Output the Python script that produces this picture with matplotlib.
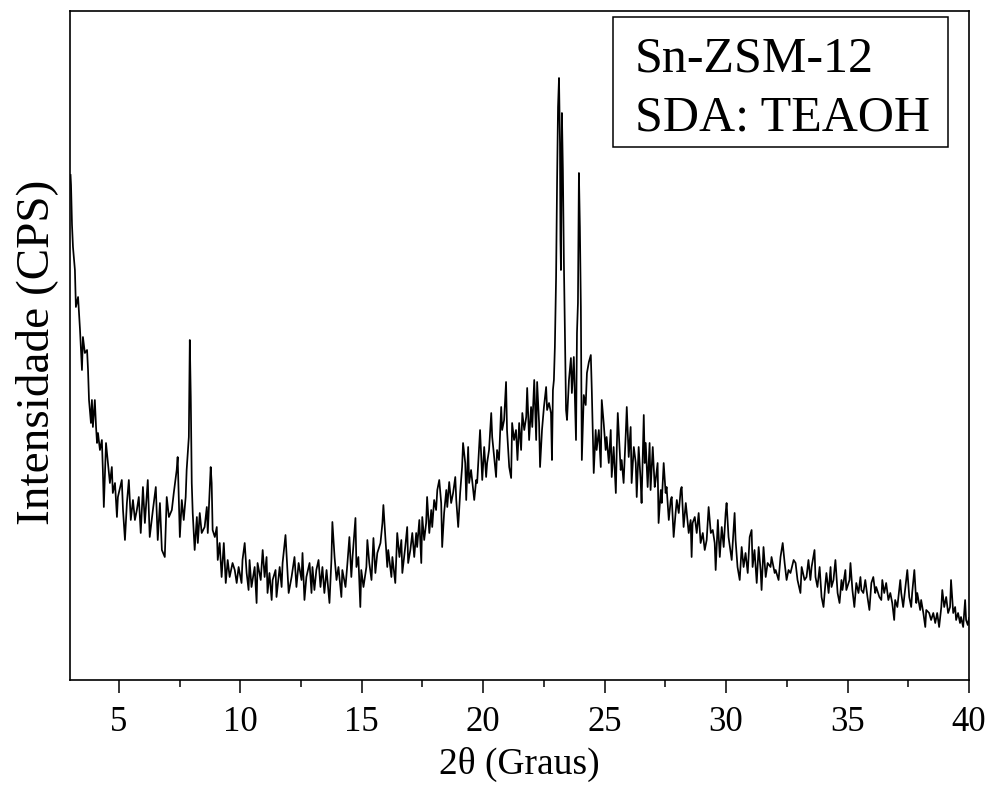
import numpy as np
import matplotlib
matplotlib.use('Agg')
import matplotlib.pyplot as plt
from matplotlib.patches import Rectangle
from matplotlib.ticker import MultipleLocator

### Difractograma Sn-ZSM-12 (intensidade em unidades arbitrarias)
# regiao de baixo angulo (3 - 10.4)
theta_a = [3.01, 3.03, 3.07, 3.11, 3.19, 3.23, 3.32, 3.40, 3.48, 3.52,
           3.60, 3.69, 3.73, 3.77, 3.85, 3.89, 3.93, 4.01, 4.06, 4.10,
           4.14, 4.22, 4.30, 4.34, 4.38, 4.47, 4.55, 4.63, 4.71, 4.75,
           4.84, 4.92, 4.96, 5.12, 5.17, 5.25, 5.33, 5.41, 5.49, 5.58,
           5.66, 5.74, 5.82, 5.90, 5.99, 6.07, 6.19, 6.27, 6.40, 6.52,
           6.60, 6.69, 6.77, 6.89, 6.97, 7.06, 7.18, 7.26, 7.38, 7.42,
           7.51, 7.59, 7.67, 7.75, 7.79, 7.88, 7.92, 7.96, 8.00, 8.04,
           8.12, 8.21, 8.25, 8.33, 8.41, 8.53, 8.62, 8.66, 8.74, 8.78,
           8.82, 8.86, 8.95, 9.03, 9.07, 9.15, 9.23, 9.32, 9.40, 9.48,
           9.56, 9.68, 9.77, 9.85, 9.93, 10.05, 10.09, 10.18, 10.26, 10.34]
counts_a = [505, 495, 455, 433, 410, 373, 383, 350, 310, 343,
            327, 330, 310, 280, 257, 280, 253, 280, 253, 237,
            247, 230, 240, 210, 173, 237, 217, 197, 213, 187,
            197, 163, 183, 200, 170, 140, 177, 200, 160, 180,
            160, 170, 183, 147, 193, 157, 200, 143, 170, 193,
            140, 177, 130, 123, 183, 163, 170, 187, 210, 223,
            143, 180, 160, 183, 210, 243, 340, 283, 197, 167,
            130, 163, 137, 167, 147, 153, 173, 147, 190, 213,
            197, 150, 143, 153, 120, 137, 103, 137, 97, 120,
            103, 117, 110, 97, 113, 97, 120, 137, 107, 90]

# fundo amorfo (10.4 - 19.4)
theta_b = [10.38, 10.46, 10.59, 10.67, 10.71, 10.84, 10.92, 11.00, 11.08, 11.12,
           11.20, 11.29, 11.33, 11.45, 11.49, 11.62, 11.70, 11.74, 11.86, 11.90,
           11.99, 12.11, 12.23, 12.31, 12.40, 12.52, 12.56, 12.64, 12.72, 12.85,
           12.93, 12.97, 13.05, 13.13, 13.22, 13.30, 13.38, 13.46, 13.55, 13.67,
           13.75, 13.79, 13.88, 13.96, 14.04, 14.16, 14.20, 14.33, 14.41, 14.49,
           14.57, 14.62, 14.74, 14.78, 14.86, 14.94, 14.98, 15.07, 15.19, 15.23,
           15.31, 15.40, 15.48, 15.56, 15.64, 15.77, 15.85, 15.89, 15.97, 16.05,
           16.09, 16.22, 16.26, 16.38, 16.46, 16.55, 16.63, 16.67, 16.79, 16.87,
           16.91, 17.00, 17.08, 17.16, 17.24, 17.28, 17.37, 17.45, 17.49, 17.57,
           17.65, 17.69, 17.78, 17.86, 17.90, 17.98, 18.06, 18.11, 18.19, 18.27,
           18.31, 18.39, 18.48, 18.52, 18.60, 18.68, 18.76, 18.85, 18.89, 18.97,
           19.05, 19.13, 19.17, 19.26, 19.30, 19.38]
counts_b = [120, 93, 113, 77, 117, 100, 130, 103, 123, 87,
            107, 80, 100, 110, 83, 113, 93, 117, 145, 127,
            87, 103, 123, 93, 117, 100, 127, 80, 103, 117,
            87, 113, 90, 110, 120, 93, 113, 87, 110, 77,
            120, 158, 123, 100, 113, 83, 110, 93, 117, 143,
            103, 123, 162, 113, 123, 73, 110, 93, 113, 140,
            117, 100, 142, 107, 127, 137, 157, 175, 143, 113,
            130, 103, 123, 97, 147, 123, 140, 107, 133, 153,
            117, 130, 147, 123, 147, 133, 160, 117, 163, 140,
            157, 183, 147, 170, 153, 180, 170, 190, 200, 177,
            133, 167, 190, 173, 198, 177, 187, 203, 180, 153,
            187, 213, 237, 217, 180, 233]

# picos principais (19.4 - 26.3)
theta_c = [19.42, 19.50, 19.63, 19.71, 19.75, 19.87, 19.96, 20.04, 20.12, 20.16,
           20.24, 20.33, 20.37, 20.45, 20.53, 20.57, 20.65, 20.74, 20.78, 20.86,
           20.94, 20.98, 21.07, 21.15, 21.19, 21.27, 21.35, 21.41, 21.48, 21.56,
           21.61, 21.69, 21.77, 21.81, 21.89, 21.97, 22.02, 22.10, 22.18, 22.22,
           22.30, 22.34, 22.42, 22.50, 22.59, 22.63, 22.71, 22.79, 22.83, 22.87,
           22.91, 22.95, 23.00, 23.04, 23.08, 23.12, 23.16, 23.18, 23.20, 23.24,
           23.28, 23.32, 23.36, 23.41, 23.45, 23.53, 23.61, 23.65, 23.73, 23.82,
           23.86, 23.90, 23.94, 23.98, 24.02, 24.06, 24.14, 24.22, 24.27, 24.35,
           24.43, 24.47, 24.55, 24.63, 24.67, 24.76, 24.84, 24.88, 24.96, 25.04,
           25.08, 25.17, 25.25, 25.29, 25.37, 25.46, 25.50, 25.54, 25.66, 25.70,
           25.78, 25.87, 25.91, 25.99, 26.07, 26.11, 26.20, 26.28, 26.32]
counts_c = [197, 210, 180, 200, 197, 250, 200, 233, 203, 217,
            230, 267, 243, 223, 203, 230, 220, 273, 250, 260,
            298, 250, 213, 202, 257, 240, 250, 220, 257, 230,
            267, 250, 263, 292, 240, 273, 253, 300, 240, 298,
            257, 213, 250, 273, 293, 270, 277, 267, 220, 290,
            300, 333, 403, 497, 573, 602, 537, 440, 410, 567,
            510, 420, 353, 270, 260, 300, 322, 287, 323, 240,
            347, 377, 507, 453, 373, 220, 285, 275, 307, 318,
            325, 290, 207, 250, 230, 250, 213, 280, 257, 230,
            243, 217, 250, 203, 233, 187, 233, 267, 210, 220,
            197, 247, 273, 223, 253, 197, 233, 217, 183]

# cauda de alto angulo (26.4 - 40)
theta_d = [26.40, 26.48, 26.52, 26.61, 26.65, 26.69, 26.77, 26.85, 26.89, 26.98,
           27.06, 27.10, 27.18, 27.22, 27.31, 27.35, 27.43, 27.51, 27.55, 27.64,
           27.72, 27.76, 27.84, 27.92, 27.97, 28.05, 28.13, 28.17, 28.25, 28.34,
           28.38, 28.46, 28.54, 28.58, 28.62, 28.71, 28.79, 28.87, 28.95, 29.04,
           29.12, 29.20, 29.28, 29.37, 29.45, 29.53, 29.57, 29.66, 29.74, 29.82,
           29.90, 29.98, 30.02, 30.10, 30.19, 30.23, 30.35, 30.39, 30.47, 30.56,
           30.64, 30.72, 30.80, 30.89, 30.97, 31.05, 31.09, 31.17, 31.26, 31.34,
           31.42, 31.46, 31.54, 31.63, 31.71, 31.83, 31.87, 32.00, 32.04, 32.16,
           32.24, 32.33, 32.41, 32.49, 32.57, 32.65, 32.78, 32.86, 32.94, 33.06,
           33.11, 33.23, 33.31, 33.39, 33.47, 33.52, 33.64, 33.68, 33.76, 33.85,
           33.93, 34.01, 34.09, 34.13, 34.22, 34.30, 34.34, 34.42, 34.50, 34.59,
           34.67, 34.75, 34.79, 34.91, 34.95, 35.08, 35.12, 35.20, 35.28, 35.36,
           35.45, 35.53, 35.57, 35.65, 35.73, 35.82, 35.90, 35.98, 36.06, 36.14,
           36.18, 36.31, 36.39, 36.43, 36.51, 36.59, 36.68, 36.76, 36.84, 36.92,
           36.96, 37.05, 37.17, 37.21, 37.29, 37.38, 37.46, 37.54, 37.62, 37.66,
           37.75, 37.83, 37.87, 37.99, 38.03, 38.12, 38.20, 38.24, 38.36, 38.44,
           38.53, 38.61, 38.69, 38.77, 38.86, 38.90, 38.98, 39.06, 39.14, 39.22,
           39.26, 39.35, 39.43, 39.47, 39.55, 39.63, 39.67, 39.76, 39.84, 39.88,
           39.95, 40.00]
counts_d = [233, 200, 177, 265, 217, 237, 193, 237, 190, 233,
            193, 200, 217, 157, 190, 177, 217, 187, 193, 160,
            180, 183, 143, 167, 180, 167, 190, 193, 153, 177,
            167, 147, 160, 123, 157, 163, 147, 167, 137, 147,
            130, 140, 173, 147, 150, 137, 110, 160, 123, 153,
            133, 167, 177, 143, 127, 120, 167, 140, 113, 100,
            133, 113, 127, 107, 143, 150, 113, 130, 97, 133,
            110, 90, 133, 103, 117, 113, 123, 107, 110, 100,
            123, 137, 117, 100, 110, 107, 120, 117, 100, 87,
            113, 100, 103, 120, 100, 113, 130, 103, 93, 113,
            83, 73, 97, 107, 87, 113, 93, 100, 120, 87,
            77, 100, 90, 110, 90, 100, 117, 90, 73, 97,
            87, 103, 90, 87, 100, 83, 70, 97, 103, 87,
            93, 83, 80, 100, 87, 97, 80, 87, 77, 60,
            80, 73, 100, 87, 73, 93, 110, 83, 73, 87,
            110, 77, 87, 70, 80, 67, 53, 70, 67, 60,
            67, 57, 67, 53, 73, 90, 73, 83, 67, 73,
            100, 67, 73, 60, 67, 57, 63, 53, 80, 60,
            55, 62]

x_ticks = [5, 10, 15, 20, 25, 30, 35, 40]
legend_lines = ['Sn-ZSM-12', 'SDA: TEAOH']

two_theta = np.array(theta_a + theta_b + theta_c + theta_d)
counts = np.array(counts_a + counts_b + counts_c + counts_d)
assert len(two_theta) == len(counts)

### Figura
plt.rcParams['font.family'] = ['Liberation Serif', 'DejaVu Serif']

fig = plt.figure(figsize=(9.9, 7.87), dpi=100)
ax = fig.add_axes([70.3 / 990, 107 / 787, 898.7 / 990, 669 / 787])

ax.plot(two_theta, counts, color='black', lw=1.25)

ax.set_xlim(3, 40)
ax.set_ylim(0, 669)
ax.set_xticks(x_ticks)
ax.xaxis.set_minor_locator(MultipleLocator(2.5))
ax.set_yticks([])
ax.tick_params(axis='x', which='major', length=9.5, width=1.1,
               direction='out', labelsize=25, pad=9)
ax.tick_params(axis='x', which='minor', length=5, width=1.1, direction='out')
for s in ax.spines.values():
    s.set_linewidth(1.2)

ax.set_xlabel('2θ (Graus)', fontsize=27, labelpad=6)
fig.text(37 / 990, 1 - 352 / 787, 'Intensidade (CPS)', rotation=90,
         ha='center', va='center', fontsize=34)

### Caixa de legenda
ax.add_patch(Rectangle((0.604, 0.797), 0.373, 0.194, transform=ax.transAxes,
                       fill=False, lw=1.1, ec='black'))
ax.text(0.628, 0.909, legend_lines[0], transform=ax.transAxes,
        fontsize=36, va='baseline', ha='left')
ax.text(0.628, 0.822, legend_lines[1], transform=ax.transAxes,
        fontsize=36, va='baseline', ha='left')

plt.savefig('out.png', dpi=100)
